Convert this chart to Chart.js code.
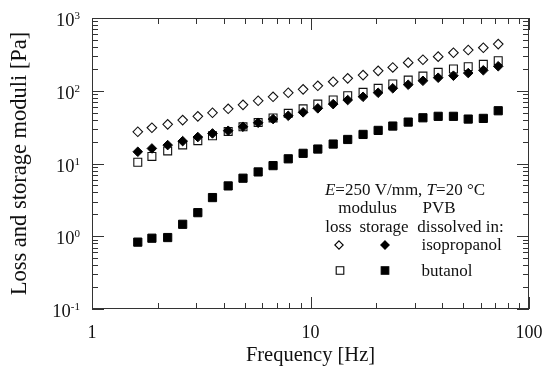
<!DOCTYPE html>
<html>
<head>
<meta charset="utf-8">
<script src="https://cdn.jsdelivr.net/npm/chart.js@4"></script>
<style>
  html, body { margin: 0; padding: 0; background: #fff; }
</style>
</head>
<body>
<canvas id="chart" width="555" height="370"></canvas>
<script>
// frequency sweep points [Hz]
const freq = [1.62, 1.88, 2.22, 2.60, 3.05, 3.56, 4.20, 4.91, 5.76, 6.74, 7.91, 9.25, 10.8,
              12.7, 14.8, 17.4, 20.4, 23.8, 28.0, 32.7, 38.4, 45.1, 52.7, 61.8, 72.3];
// moduli [Pa]
const lossIso = [27.3, 31.0, 34.5, 39.5, 44.5, 49.8, 56.5, 64.1, 72.8, 82.6, 93.8, 104.5, 117,
                 133, 148, 164, 188, 209, 243, 267, 294, 333, 363, 390, 438];
const storageIso = [14.5, 16.1, 17.9, 20.3, 23.1, 25.9, 28.2, 32.0, 36.3, 40.8, 45.3, 50.5, 57.3,
                    65.5, 74.5, 82.6, 93.8, 108, 121, 137, 151, 161, 175, 191, 217];
const lossBut = [10.4, 12.5, 14.9, 18.0, 20.6, 24.0, 27.6, 31.9, 36.5, 42.3, 49.0, 56.5, 65.5,
                 74.6, 85.3, 95, 108, 124, 140, 159, 179, 199, 214, 231, 259];
const storageBut = [0.83, 0.94, 0.96, 1.46, 2.11, 3.40, 4.92, 6.28, 7.66, 9.35, 11.6, 13.8, 15.8,
                    18.5, 21.4, 25.1, 28.5, 32.7, 37.1, 42.5, 44.5, 44.5, 40.8, 41.7, 53.1];

const xDecades = [1, 10, 100];
const yDecades = [0.1, 1, 10, 100, 1000];
const yExponents = ['-1', '0', '1', '2', '3'];
const minorSteps = [2, 3, 4, 5, 6, 7, 8, 9];

const SERIF = '"Liberation Serif", "Times New Roman", serif';
const INK = '#111';

const pts = (ys) => freq.map((f, i) => ({ x: f, y: ys[i] }));

function tickValues(decades) {
  const out = [];
  decades.forEach((d, i) => {
    out.push({ value: d, major: true });
    if (i < decades.length - 1) minorSteps.forEach(m => out.push({ value: d * m, major: false }));
  });
  return out;
}

function marker(ctx, style, filled, cx, cy, r) {
  ctx.beginPath();
  if (style === 'diamond') {
    ctx.moveTo(cx, cy - r); ctx.lineTo(cx + r, cy); ctx.lineTo(cx, cy + r); ctx.lineTo(cx - r, cy);
    ctx.closePath();
  } else {
    ctx.rect(cx - r, cy - r, 2 * r, 2 * r);
  }
  ctx.fillStyle = filled ? '#000' : '#fff';
  ctx.fill();
  ctx.strokeStyle = '#000';
  ctx.lineWidth = 1.1;
  ctx.stroke();
}

const frame = {
  id: 'frame',
  afterDatasetsDraw(chart) {
    const { ctx, chartArea: a, scales: { x, y } } = chart;
    ctx.save();
    ctx.strokeStyle = '#333';
    ctx.lineWidth = 1;
    ctx.strokeRect(a.left + 0.5, a.top + 0.5, a.right - a.left - 1, a.bottom - a.top - 1);

    ctx.beginPath();
    tickValues(xDecades).forEach(t => {
      const px = Math.round(x.getPixelForValue(t.value)) + 0.5;
      const len = t.major ? 12 : 6;
      ctx.moveTo(px, a.bottom); ctx.lineTo(px, a.bottom - len);
      ctx.moveTo(px, a.top); ctx.lineTo(px, a.top + len);
    });
    tickValues(yDecades).forEach(t => {
      const py = Math.round(y.getPixelForValue(t.value)) + 0.5;
      const len = t.major ? 12 : 6;
      ctx.moveTo(a.left, py); ctx.lineTo(a.left + len, py);
      ctx.moveTo(a.right, py); ctx.lineTo(a.right - len, py);
    });
    ctx.stroke();

    // tick labels
    ctx.fillStyle = INK;
    ctx.font = '18px ' + SERIF;
    ctx.textAlign = 'center';
    ctx.textBaseline = 'alphabetic';
    xDecades.forEach(v => {
      ctx.fillText(String(v), x.getPixelForValue(v), a.bottom + 29);
    });
    yDecades.forEach((v, i) => {
      const py = y.getPixelForValue(v);
      ctx.font = '11px ' + SERIF;
      const we = ctx.measureText(yExponents[i]).width;
      ctx.font = '18.5px ' + SERIF;
      const wb = ctx.measureText('10').width;
      const right = 80;
      ctx.textAlign = 'left';
      ctx.fillText('10', right - we - wb, py + 8);
      ctx.font = '11px ' + SERIF;
      ctx.fillText(yExponents[i], right - we, py + 1);
    });

    // legend block
    const line1 = [['E', true], ['=250 V/mm, ', false], ['T', true], ['=20 \u00B0C', false]];
    const fontOf = it => (it ? 'italic ' : '') + '17px ' + SERIF;
    let total = 0;
    line1.forEach(([s, it]) => { ctx.font = fontOf(it); total += ctx.measureText(s).width; });
    let cx = 405 - total / 2;
    ctx.textAlign = 'left';
    line1.forEach(([s, it]) => { ctx.font = fontOf(it); ctx.fillText(s, cx, 195); cx += ctx.measureText(s).width; });

    ctx.font = '17px ' + SERIF;
    ctx.textAlign = 'center';
    ctx.fillText('modulus', 367.5, 213);
    ctx.fillText('PVB', 439, 213);
    ctx.fillText('loss', 338.5, 232);
    ctx.fillText('storage', 384, 232);
    ctx.fillText('dissolved in:', 460.5, 232);
    ctx.textAlign = 'left';
    ctx.fillText('isopropanol', 421.5, 249.5);
    ctx.fillText('butanol', 421.5, 275.5);

    marker(ctx, 'diamond', false, 339, 245, 4.2);
    marker(ctx, 'diamond', true, 385, 245, 4.2);
    marker(ctx, 'square', false, 340, 270.5, 3.8);
    marker(ctx, 'square', true, 385, 270.5, 3.8);
    ctx.restore();
  }
};

new Chart(document.getElementById('chart'), {
  type: 'scatter',
  data: {
    datasets: [
      { label: 'storage isopropanol', data: pts(storageIso), pointStyle: 'rectRot', pointRadius: 4.8,
        backgroundColor: '#000', borderColor: '#000', borderWidth: 1 },
      { label: 'loss butanol', data: pts(lossBut), pointStyle: 'rect', pointRadius: 5.6,
        backgroundColor: '#fff', borderColor: '#111', borderWidth: 1.1 },
      { label: 'loss isopropanol', data: pts(lossIso), pointStyle: 'rectRot', pointRadius: 4.8,
        backgroundColor: '#fff', borderColor: '#111', borderWidth: 1.1 },
      { label: 'storage butanol', data: pts(storageBut), pointStyle: 'rect', pointRadius: 5.8,
        backgroundColor: '#000', borderColor: '#000', borderWidth: 1 }
    ]
  },
  options: {
    responsive: false,
    animation: false,
    devicePixelRatio: 1,
    layout: { padding: { top: 18, right: 26, left: 0, bottom: 0 } },
    plugins: { legend: { display: false }, tooltip: { enabled: false } },
    scales: {
      x: {
        type: 'logarithmic', position: 'bottom', min: 1, max: 100,
        grid: { display: false, drawTicks: false }, border: { display: false },
        ticks: { display: false },
        afterFit: s => { s.height = 61; },
        title: { display: true, text: 'Frequency [Hz]', color: INK,
                 font: { family: SERIF, size: 20.5 }, padding: { top: 0, bottom: 2 } }
      },
      y: {
        type: 'logarithmic', position: 'left', min: 0.1, max: 1000,
        grid: { display: false, drawTicks: false }, border: { display: false },
        ticks: { display: false },
        afterFit: s => { s.width = 92; },
        title: { display: true, text: 'Loss and storage moduli [Pa]', color: INK,
                 font: { family: SERIF, size: 22.5 }, padding: { top: 7, bottom: 0 } }
      }
    }
  },
  plugins: [frame]
});
</script>
</body>
</html>
